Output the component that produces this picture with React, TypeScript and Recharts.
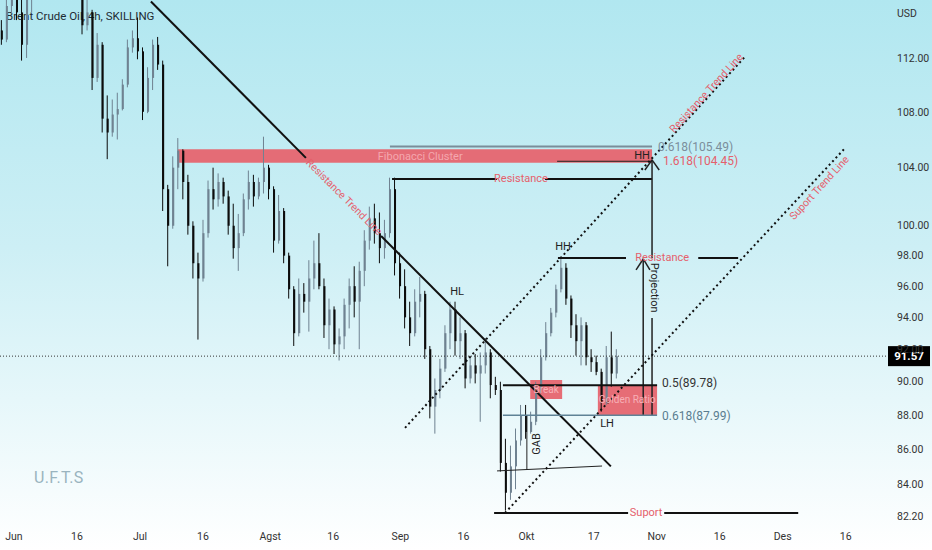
import React from "react";
import {
  ComposedChart,
  Bar,
  XAxis,
  YAxis,
  ReferenceLine,
  ReferenceArea,
  ReferenceDot,
} from "recharts";

// ---- price candles, [open, high, low, close], one candle per ~1.2 day ----
const junCandles = [
  [114.1, 114.9, 113.0, 113.4], [113.4, 116.8, 113.2, 116.0], [116.0, 117.5, 115.4, 116.8],
  [116.8, 117.2, 114.9, 115.5], [115.5, 116.5, 111.8, 113.0], [113.0, 117.0, 112.0, 116.5],
  [116.5, 118.0, 115.5, 117.5], [117.5, 120.0, 117.0, 119.0], [119.0, 121.0, 118.0, 120.5],
  [120.5, 122.5, 119.5, 121.8], [121.8, 123.5, 120.5, 122.5], [122.5, 124.0, 121.5, 123.0],
  [123.0, 124.5, 121.0, 121.8], [121.8, 123.0, 119.5, 120.5], [120.5, 121.5, 118.0, 119.0],
  [119.0, 120.0, 116.8, 117.5], [117.5, 117.8, 113.8, 114.5], [114.5, 116.8, 114.1, 115.5],
  [115.5, 115.7, 109.6, 110.5], [110.5, 113.9, 110.2, 113.0], [113.0, 113.2, 106.5, 107.5],
  [107.5, 109.2, 104.6, 106.5], [106.5, 108.9, 106.2, 107.8], [107.8, 109.4, 106.0, 108.2],
  [108.2, 110.4, 108.1, 110.0], [110.0, 113.4, 109.8, 112.8], [112.8, 114.1, 112.4, 113.5],
  [113.5, 115.1, 111.9, 112.5],
];
const julCandles = [
  [112.5, 112.8, 107.4, 108.0], [108.0, 111.3, 107.9, 110.5], [110.5, 113.4, 109.6, 113.0],
  [113.0, 113.6, 111.1, 111.5], [111.5, 111.8, 101.0, 102.5], [102.5, 102.8, 97.3, 100.0],
  [100.0, 104.8, 99.8, 104.0], [104.0, 106.1, 102.5, 105.2], [105.2, 105.3, 101.8, 103.0],
  [103.0, 103.5, 99.4, 100.0], [100.0, 100.3, 96.5, 97.5], [97.5, 98.2, 92.6, 96.5],
  [96.5, 100.4, 96.3, 99.5], [99.5, 103.1, 99.2, 102.5], [102.5, 104.0, 101.1, 101.8],
  [101.8, 103.6, 101.3, 103.0], [103.0, 103.3, 101.5, 102.0], [102.0, 102.4, 99.4, 100.0],
  [100.0, 101.5, 97.8, 98.5], [98.5, 100.8, 97.0, 99.5], [99.5, 102.2, 99.3, 101.8],
  [101.8, 103.8, 101.1, 103.0], [103.0, 103.5, 101.3, 102.0], [102.0, 103.3, 101.8, 103.0],
  [103.0, 106.2, 102.2, 104.0], [104.0, 104.2, 101.8, 102.5],
];
const augCandles = [
  [102.5, 102.7, 98.2, 99.0], [99.0, 102.1, 98.8, 101.0], [101.0, 101.2, 97.5, 98.0],
  [98.0, 98.2, 95.2, 95.8], [95.8, 96.0, 92.2, 93.0], [93.0, 96.5, 92.8, 95.5],
  [95.5, 96.2, 94.3, 95.0], [95.0, 97.7, 93.1, 96.5], [96.5, 99.0, 95.8, 97.5],
  [97.5, 99.5, 95.8, 96.0], [96.0, 96.5, 92.7, 93.5], [93.5, 95.2, 92.0, 94.5],
  [94.5, 94.7, 91.7, 92.3], [92.3, 93.3, 91.3, 92.8], [92.8, 95.2, 92.0, 94.8],
  [94.8, 96.5, 93.3, 96.0], [96.0, 97.3, 94.0, 95.0], [95.0, 97.6, 92.0, 97.0],
  [97.0, 99.7, 96.0, 99.0], [99.0, 101.3, 98.4, 100.5], [100.5, 101.5, 98.8, 99.5],
  [99.5, 100.9, 97.5, 98.5], [98.5, 100.4, 97.8, 99.5], [99.5, 103.3, 99.2, 102.5],
  [102.5, 103.3, 96.7, 97.5], [97.5, 98.2, 95.2, 96.0],
];
const sepCandles = [
  [96.0, 97.1, 93.3, 94.0], [94.0, 95.0, 92.2, 93.0], [93.0, 95.8, 92.8, 95.0],
  [95.0, 96.6, 94.0, 95.5], [95.5, 95.7, 91.4, 92.0], [92.0, 92.2, 87.8, 88.5],
  [88.5, 90.2, 86.9, 89.5], [89.5, 91.4, 89.0, 90.8], [90.8, 93.5, 90.6, 93.0],
  [93.0, 95.0, 92.0, 94.5], [94.5, 95.0, 91.6, 92.5], [92.5, 94.0, 91.4, 93.0],
  [93.0, 93.2, 89.6, 90.2], [90.2, 91.6, 89.9, 91.0], [91.0, 91.7, 89.9, 90.5],
  [90.5, 91.8, 87.6, 91.0], [91.0, 92.7, 90.5, 91.8], [91.8, 92.0, 89.0, 89.8],
  [89.8, 90.3, 89.2, 89.5], [89.5, 90.0, 84.7, 85.2], [85.2, 86.6, 82.5, 83.5],
  [83.5, 86.2, 83.1, 85.0], [85.0, 87.2, 83.7, 86.5], [86.5, 88.6, 86.2, 88.0],
  [88.0, 88.6, 86.6, 87.0],
];
const octCandles = [
  [87.0, 88.2, 86.9, 87.6], [87.6, 90.0, 87.4, 89.5], [89.5, 92.0, 89.3, 91.5],
  [91.5, 93.7, 91.3, 93.0], [93.0, 94.6, 92.8, 94.3], [94.3, 96.1, 94.0, 95.8],
  [95.8, 97.9, 95.6, 97.2], [97.2, 97.5, 94.8, 95.2], [95.2, 95.4, 92.7, 93.5],
  [93.5, 94.2, 91.6, 92.5], [92.5, 94.0, 91.0, 93.5], [93.5, 93.7, 91.0, 91.5],
  [91.5, 92.0, 90.6, 91.2], [91.2, 91.6, 90.4, 90.6], [90.6, 90.8, 88.2, 88.8],
  [88.8, 92.2, 88.6, 91.5], [91.5, 93.1, 89.7, 90.5], [90.5, 92.0, 90.2, 91.57],
];

const FIRST_DAY = -3; // days after 1 Jun
const STEP = 1.2;

// ---- axes ----
const tickDays = [0, 15, 30, 45, 61, 76, 92, 107, 122, 138, 153, 168, 183, 198];
const tickLabels = ["Jun", "16", "Jul", "16", "Agst", "16", "Sep", "16", "Okt", "17", "Nov", "16", "Des", "16"];
const priceTicks = [82.2, 84, 86, 88, 90, 92, 94, 96, 98, 100, 104, 108, 112];
const lastPrice = 91.57;

// ---- drawing objects (day, price) ----
const solidLines = [
  { a: [32.6, 116.35], b: [69.5, 104.69], c: "#111", w: 2 },
  { a: [87.4, 99.31], b: [142.1, 85.0], c: "#111", w: 2 },
  { a: [89.5, 105.49], b: [151.9, 105.49], c: "#7a8d9a", w: 2 },
  { a: [129.3, 104.45], b: [151.9, 104.45], c: "#222", w: 1 },
  { a: [90.0, 103.21], b: [115.0, 103.21], c: "#111", w: 2 },
  { a: [126.4, 103.21], b: [151.9, 103.21], c: "#111", w: 2 },
  { a: [129.5, 97.85], b: [145.7, 97.85], c: "#111", w: 2 },
  { a: [162.9, 97.85], b: [172.4, 97.85], c: "#111", w: 2 },
  { a: [151.9, 104.55], b: [151.9, 97.85], c: "#222", w: 1.5 },
  { a: [151.9, 93.96], b: [151.9, 87.99], c: "#222", w: 1.5 },
  { a: [150.2, 103.84], b: [151.9, 104.55], c: "#222", w: 1.5 },
  { a: [153.6, 103.84], b: [151.9, 104.55], c: "#222", w: 1.5 },
  { a: [149.8, 87.99], b: [149.8, 97.78], c: "#222", w: 1.5 },
  { a: [148.1, 97.06], b: [149.8, 97.78], c: "#222", w: 1.5 },
  { a: [151.4, 97.06], b: [149.8, 97.78], c: "#222", w: 1.5 },
  { a: [116.4, 89.78], b: [153.1, 89.78], c: "#111", w: 2 },
  { a: [116.4, 87.99], b: [153.1, 87.99], c: "#5f8296", w: 1.5 },
  { a: [115.0, 84.74], b: [140.0, 85.02], c: "#222", w: 1 },
  { a: [122.1, 84.8], b: [122.1, 87.95], c: "#222", w: 1 },
  { a: [114.3, 82.37], b: [146.2, 82.37], c: "#111", w: 2 },
  { a: [154.8, 82.37], b: [186.7, 82.37], c: "#111", w: 2 },
];
const dottedLines = [
  { a: [93.1, 87.24], b: [174.0, 112.08] },
  { a: [116.9, 82.37], b: [197.9, 105.4] },
];
const zones = [
  { x1: 39.0, x2: 151.9, y1: 104.35, y2: 105.3 },
  { x1: 122.9, x2: 130.5, y1: 88.96, y2: 90.11 },
  { x1: 139.0, x2: 153.1, y1: 87.99, y2: 89.78 },
];
const labels = [
  { d: 78.6, p: 101.96, s: "Resistance Trend Line", c: "#e5606c", f: 10.5, anchor: "middle", rot: 45 },
  { d: 164.8, p: 109.38, s: "Resistance Trend Line", c: "#e5606c", f: 10.5, anchor: "middle", rot: -47.5 },
  { d: 191.7, p: 102.59, s: "Suport Trend Line", c: "#e5606c", f: 10.5, anchor: "middle", rot: -47.5 },
  { d: 96.7, p: 104.82, s: "Fibonacci Cluster", c: "#f4a7ae", f: 11, anchor: "middle", rot: 0 },
  { d: 151.4, p: 104.83, s: "HH", c: "#222", f: 11, anchor: "end", rot: 0 },
  { d: 153.3, p: 105.45, s: "0.618(105.49)", c: "#7b8e9b", f: 12, anchor: "start", rot: 0 },
  { d: 154.5, p: 104.45, s: "1.618(104.45)", c: "#e5606c", f: 12, anchor: "start", rot: 0 },
  { d: 120.7, p: 103.21, s: "Resistance", c: "#e5606c", f: 11, anchor: "middle", rot: 0 },
  { d: 154.3, p: 97.85, s: "Resistance", c: "#e5606c", f: 11, anchor: "middle", rot: 0 },
  { d: 130.7, p: 98.58, s: "HH", c: "#222", f: 11, anchor: "middle", rot: 0 },
  { d: 105.5, p: 95.63, s: "HL", c: "#222", f: 11, anchor: "middle", rot: 0 },
  { d: 126.7, p: 89.53, s: "Break", c: "#f6b0b6", f: 10, anchor: "middle", rot: 0 },
  { d: 146.0, p: 88.9, s: "Golden Ratio", c: "#f6b0b6", f: 10, anchor: "middle", rot: 0 },
  { d: 154.3, p: 89.92, s: "0.5(89.78)", c: "#333", f: 12, anchor: "start", rot: 0 },
  { d: 154.3, p: 87.95, s: "0.618(87.99)", c: "#5a7d90", f: 12, anchor: "start", rot: 0 },
  { d: 141.2, p: 87.47, s: "LH", c: "#222", f: 11, anchor: "middle", rot: 0 },
  { d: 124.3, p: 86.3, s: "GAB", c: "#222", f: 11, anchor: "middle", rot: -90 },
  { d: 152.4, p: 95.9, s: "Projection", c: "#222", f: 11, anchor: "middle", rot: 90 },
  { d: 150.5, p: 82.37, s: "Suport", c: "#e5606c", f: 11, anchor: "middle", rot: 0 },
];

const UP = "#6f8291";
const DOWN = "#0c0c0c";
const X_DOMAIN: [number, number] = [-3.33, 207.6];
const Y_DOMAIN: [number, number] = [81.7, 116.47];

const candles = [...junCandles, ...julCandles, ...augCandles, ...sepCandles, ...octCandles].map(
  ([o, h, l, c], i) => ({
    t: FIRST_DAY + i * STEP,
    o, h, l, c,
    wick: [l, h],
    body: [Math.min(o, c), Math.max(o, c)],
  })
);

const CandlePart = (props: any) => {
  const { x, y, width, height, payload } = props;
  if (x == null || y == null) return null;
  const up = payload.c >= payload.o;
  const top = height < 0 ? y + height : y;
  const h = Math.max(Math.abs(height), 1);
  return <rect x={x} y={top} width={Math.max(width, 1)} height={h} fill={up ? UP : DOWN} />;
};

const makeText = (l: any) => (props: any) => {
  const { cx, cy } = props;
  if (cx == null || cy == null) return null;
  return (
    <text
      x={cx}
      y={cy}
      fill={l.c}
      fontSize={l.f}
      textAnchor={l.anchor}
      dominantBaseline="central"
      transform={l.rot ? `rotate(${l.rot} ${cx} ${cy})` : undefined}
    >
      {l.s}
    </text>
  );
};

const DateTick = (props: any) => {
  const { x, y, payload } = props;
  const idx = tickDays.indexOf(payload.value);
  return (
    <text x={x} y={y} dy={1} textAnchor="middle" dominantBaseline="hanging" fontSize={10.5} fill="#333">
      {idx >= 0 ? tickLabels[idx] : ""}
    </text>
  );
};

const PriceBadge = (props: any) => {
  const vb = props.viewBox;
  if (!vb) return null;
  const x = vb.x + vb.width;
  const y = vb.y;
  return (
    <g>
      <rect x={x + 2} y={y - 10} width={42} height={20} fill="#000" />
      <text x={x + 23} y={y} fill="#fff" fontSize={11.5} fontWeight="bold" textAnchor="middle" dominantBaseline="central">
        {lastPrice.toFixed(2)}
      </text>
    </g>
  );
};

export default function App() {
  return (
    <div
      style={{
        position: "relative",
        width: 932,
        height: 550,
        overflow: "hidden",
        background: "linear-gradient(to bottom, #b1e7f0 0%, #cdeff5 45%, #ffffff 100%)",
        fontFamily: "Roboto, 'Liberation Sans', sans-serif",
      }}
    >
      <style>{"body{margin:0}"}</style>
      <div style={{ position: "absolute", left: 6, top: 9, fontSize: 11.5, color: "#1e2b33" }}>
        Brent Crude Oil, 4h, SKILLING
      </div>
      <div style={{ position: "absolute", left: 34, top: 468, fontSize: 16, color: "#9ab4bf", letterSpacing: 0.3 }}>
        U.F.T.S
      </div>
      <div style={{ position: "absolute", left: 897, top: 7, fontSize: 10.5, color: "#333" }}>USD</div>
      <div style={{ position: "absolute", left: 0, top: 0 }}>
        <ComposedChart width={932} height={550} data={candles} margin={{ top: 0, right: 0, bottom: 0, left: 0 }}>
          <XAxis
            xAxisId="a"
            dataKey="t"
            type="number"
            domain={X_DOMAIN}
            allowDataOverflow
            ticks={tickDays}
            interval={0}
            axisLine={false}
            tickLine={false}
            tickSize={0}
            tickMargin={6}
            height={25}
            tick={DateTick}
          />
          <XAxis xAxisId="z" dataKey="t" type="number" domain={X_DOMAIN} allowDataOverflow hide height={0} />
          <YAxis
            yAxisId="p"
            orientation="right"
            scale="log"
            domain={Y_DOMAIN}
            allowDataOverflow
            ticks={priceTicks}
            interval={0}
            width={46}
            axisLine={false}
            tickLine={false}
            tickMargin={5}
            tick={{ fontSize: 10.5, fill: "#333" }}
            tickFormatter={(v: number) => v.toFixed(2)}
          />
          {zones.map((z, i) => (
            <ReferenceArea
              key={"z" + i}
              xAxisId="a"
              yAxisId="p"
              x1={z.x1}
              x2={z.x2}
              y1={z.y1}
              y2={z.y2}
              fill="#e6656f"
              fillOpacity={0.95}
              stroke="none"
              ifOverflow="visible"
            />
          ))}
          <Bar xAxisId="a" yAxisId="p" dataKey="wick" barSize={1} isAnimationActive={false} shape={CandlePart} />
          <Bar xAxisId="z" yAxisId="p" dataKey="body" barSize={2} isAnimationActive={false} shape={CandlePart} />
          <ReferenceLine
            xAxisId="a"
            yAxisId="p"
            y={lastPrice}
            stroke="#333"
            strokeWidth={1}
            strokeDasharray="1 2"
            label={PriceBadge}
          />
          {solidLines.map((l, i) => (
            <ReferenceLine
              key={"s" + i}
              xAxisId="a"
              yAxisId="p"
              segment={[{ x: l.a[0], y: l.a[1] }, { x: l.b[0], y: l.b[1] }]}
              stroke={l.c}
              strokeWidth={l.w}
              ifOverflow="visible"
            />
          ))}
          {dottedLines.map((l, i) => (
            <ReferenceLine
              key={"d" + i}
              xAxisId="a"
              yAxisId="p"
              segment={[{ x: l.a[0], y: l.a[1] }, { x: l.b[0], y: l.b[1] }]}
              stroke="#111"
              strokeWidth={2}
              strokeDasharray="2 3"
              ifOverflow="visible"
            />
          ))}
          {labels.map((l, i) => (
            <ReferenceDot
              key={"l" + i}
              xAxisId="a"
              yAxisId="p"
              x={l.d}
              y={l.p}
              r={0}
              ifOverflow="visible"
              shape={makeText(l)}
            />
          ))}
        </ComposedChart>
      </div>
    </div>
  );
}
